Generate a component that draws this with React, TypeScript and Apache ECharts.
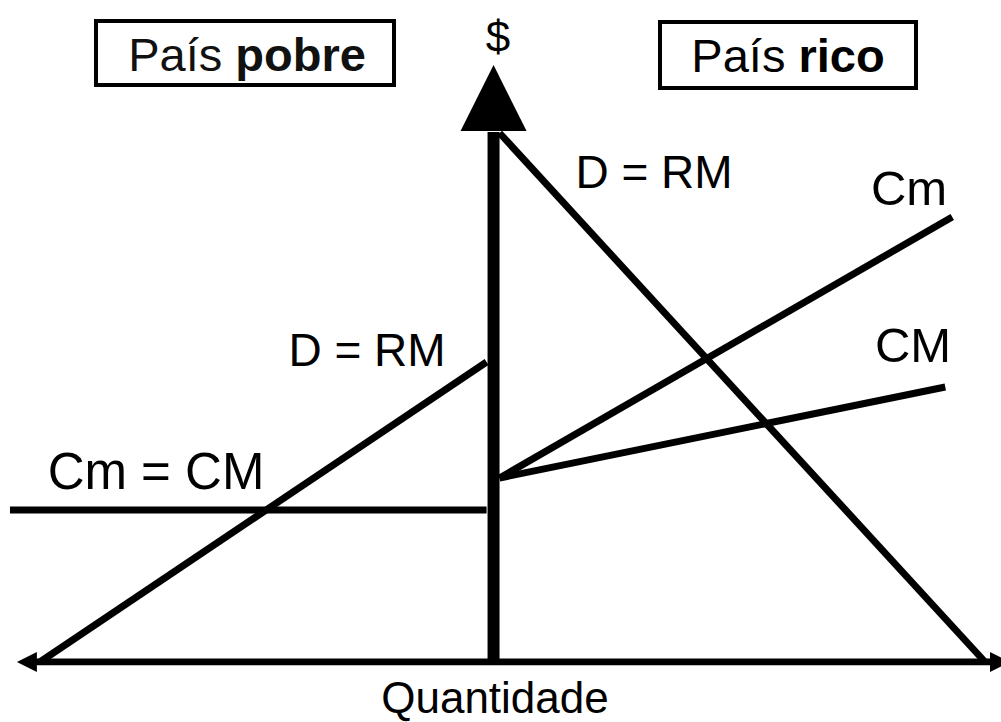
import React, { useEffect, useRef } from "react";
import * as echarts from "echarts";

// Curves in diagram units (origin at the crossing of the axes)
const richDemand = [[0.6, 52.9], [49.4, 0]];
const richMarginalCost = [[0.6, 18.4], [46.1, 44.5]];
const richAverageCost = [[0.6, 18.4], [45.4, 27.5]];
const poorDemand = [[-0.7, 30], [-45.6, 0]];
const poorCost = [[-48.6, 15.2], [-0.7, 15.2]];
const priceAxis = [[0, 0], [0, 53]];
const quantityAxis = [[-46, 0], [51, 0]];
const priceArrow = [[0, 56.4]];
const leftArrow = [[-46.9, 0]];
const rightArrow = [[50.9, 0]];

const FONT = "'Liberation Sans', Arial, sans-serif";

export default function App() {
  const ref = useRef<HTMLDivElement>(null);
  useEffect(() => {
    document.body.style.margin = "0";
    const chart = echarts.init(ref.current!, null, { renderer: "svg" });
    const line = (data: number[][], width = 7) => ({
      type: "line",
      data,
      symbol: "none",
      silent: true,
      lineStyle: { color: "#000", width, cap: "butt", opacity: 1 },
    });
    const arrow = (data: number[][], size: number[], rot: number) => ({
      type: "scatter",
      data,
      symbol: "triangle",
      symbolSize: size,
      symbolRotate: rot,
      silent: true,
      itemStyle: { color: "#000", opacity: 1 },
      z: 5,
    });
    const txt = (text: string, x: number, y: number, size: number) => ({
      type: "text",
      x,
      y,
      style: {
        text,
        fontSize: size,
        fontFamily: FONT,
        fill: "#000",
        align: "center",
        verticalAlign: "middle",
      },
    });
    chart.setOption({
      animation: false,
      backgroundColor: "#fff",
      grid: { left: 6, right: -5, top: 62, bottom: 60 },
      xAxis: { type: "value", min: -49, max: 51, show: false },
      yAxis: { type: "value", min: 0, max: 60, show: false },
      series: [
        line(richDemand),
        line(richMarginalCost),
        line(richAverageCost),
        line(poorDemand),
        line(poorCost),
        line(quantityAxis),
        { ...line(priceAxis, 12), z: 4 },
        arrow(priceArrow, [66, 66], 0),
        arrow(leftArrow, [20, 20], 90),
        arrow(rightArrow, [20, 20], -90),
      ],
      graphic: [
        {
          type: "rect",
          shape: { x: 96, y: 21, width: 298, height: 64 },
          style: { fill: "#fff", stroke: "#000", lineWidth: 4 },
        },
        {
          type: "rect",
          shape: { x: 660, y: 22, width: 256, height: 66 },
          style: { fill: "#fff", stroke: "#000", lineWidth: 4 },
        },
        {
          type: "text",
          x: 247,
          y: 54,
          style: {
            text: "País {b|pobre}",
            fontSize: 47,
            fontFamily: FONT,
            fill: "#111",
            align: "center",
            verticalAlign: "middle",
            rich: { b: { fontSize: 47, fontWeight: "bold", fontFamily: FONT, fill: "#111" } },
          },
        },
        {
          type: "text",
          x: 788,
          y: 55,
          style: {
            text: "País {b|rico}",
            fontSize: 47,
            fontFamily: FONT,
            fill: "#000",
            align: "center",
            verticalAlign: "middle",
            rich: { b: { fontSize: 47, fontWeight: "bold", fontFamily: FONT, fill: "#000" } },
          },
        },
        txt("$", 498, 36, 44),
        txt("D = RM", 654, 172, 46),
        txt("Cm", 909, 188, 49),
        txt("CM", 913, 345, 49),
        txt("D = RM", 367, 350, 46),
        txt("Cm = CM", 156, 471, 51),
        txt("Quantidade", 495, 697, 44),
      ],
    });
    return () => chart.dispose();
  }, []);
  return (
    <div
      ref={ref}
      style={{ position: "fixed", left: 0, top: 0, width: 1001, height: 722 }}
    />
  );
}
